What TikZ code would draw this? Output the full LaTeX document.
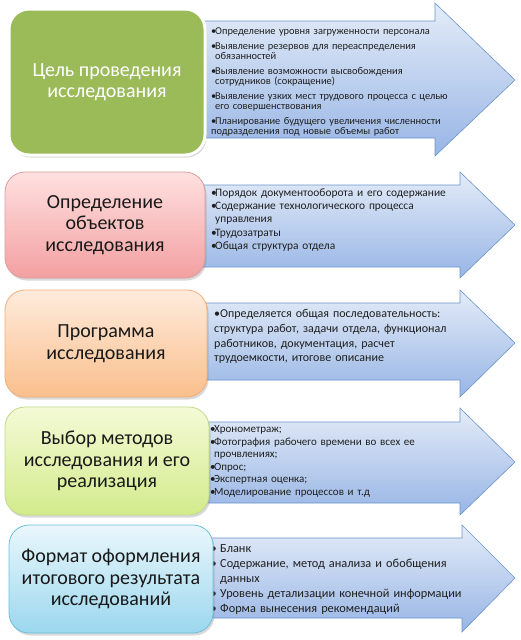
\documentclass[tikz,border=0pt]{standalone}
\usepackage{fontspec}
\setmainfont{Carlito}
\usetikzlibrary{shadows}
\definecolor{arrtop}{HTML}{E4ECF8}
\definecolor{arrbot}{HTML}{97B5E5}
\definecolor{arredge}{HTML}{6C94CC}
\definecolor{gfill}{HTML}{9BBB59}
\definecolor{ptop}{HTML}{FFE0E0}
\definecolor{pbot}{HTML}{F3A0A1}
\definecolor{pedge}{HTML}{DA9C9C}
\definecolor{otop}{HTML}{FEEBDC}
\definecolor{obot}{HTML}{FABF8D}
\definecolor{oedge}{HTML}{F3AE7A}
\definecolor{ltop}{HTML}{F4FAD6}
\definecolor{lbot}{HTML}{D3EB8C}
\definecolor{ledge}{HTML}{C2D98C}
\definecolor{btop}{HTML}{EAF7FC}
\definecolor{bbot}{HTML}{9BD7EE}
\definecolor{bedge}{HTML}{6CC0DD}
\newcommand\bitem[2][4pt]{\par\hangindent=#1\hangafter=1\noindent\makebox[#1][l]{•}#2}
\begin{document}
\begin{tikzpicture}[x=1pt,y=-1pt,
  arrowshape/.style={draw=arredge, line width=0.6pt, top color=arrtop, bottom color=arrbot},
  listtext/.style={anchor=base west, inner sep=0pt, text width=280pt, align=left, text=black!88},
  stagebox/.style={rounded corners=20pt, line width=0.8pt, align=center, inner sep=0pt,
    font=\fontsize{20}{21.5}\selectfont, text=black!90,
    drop shadow={opacity=0.3, shadow xshift=1.5pt, shadow yshift=-2.5pt}},
]
\useasboundingbox (0,0) rectangle (520,640);
% arrows
\path[arrowshape] (190,21) -- (435,21) -- (435,3) -- (515,80) -- (435,156) -- (435,138) -- (190,138) -- cycle;
\path[arrowshape] (190,185) -- (460,185) -- (460,172) -- (515,225) -- (460,278) -- (460,267) -- (190,267) -- cycle;
\path[arrowshape] (190,303) -- (460,303) -- (460,290) -- (515,343) -- (460,397) -- (460,380) -- (190,380) -- cycle;
\path[arrowshape] (190,422) -- (460,422) -- (460,408) -- (515,462) -- (460,515) -- (460,503) -- (190,503) -- cycle;
\path[arrowshape] (190,538) -- (462,538) -- (462,525) -- (515,578) -- (462,632) -- (462,618) -- (190,618) -- cycle;
% list texts
\node[listtext, font=\fontsize{10.4}{10}\selectfont] (t1) at (211,19) {\setlength\parskip{5pt}%
\bitem{Определение уровня загруженности персонала}
\bitem{Выявление резервов для переаспределения\newline обязанностей}
\bitem{Выявление возможности высвобождения\newline сотрудников (сокращение)}
\bitem{Выявление узких мест трудового процесса с целью\newline его совершенствования}
\bitem{Планирование будущего увеличения численности\newline подразделения под новые объемы работ}};
\node[listtext, font=\fontsize{11.4}{13.3}\selectfont] (t2) at (211,183) {\setlength\parskip{0pt}%
\bitem{Порядок документооборота и его содержание}
\bitem{Содержание технологического процесса\newline управления}
\bitem{Трудозатраты}
\bitem{Общая структура отдела}};
\node[listtext, font=\fontsize{12}{14.7}\selectfont] (t3) at (214,303) {\setlength\parskip{0pt}%
\bitem[6pt]{Определяется общая последовательность:\newline структура работ, задачи отдела, функционал\newline работников, документация, расчет\newline трудоемкости, итогове описание}};
\node[listtext, font=\fontsize{11}{12}\selectfont] (t4) at (210,420) {\setlength\parskip{0.7pt}%
\bitem{Хронометраж;}
\bitem{Фотография рабочего времени во всех ее\newline прочвлениях;}
\bitem{Опрос;}
\bitem{Экспертная оценка;}
\bitem{Моделирование процессов и т.д}};
\node[listtext, font=\fontsize{12.3}{14.8}\selectfont] (t5) at (210.5,538) {\setlength\parskip{0pt}%
\bitem[9.5pt]{Бланк}
\bitem[9.5pt]{Содержание, метод анализа и обобщения\newline данных}
\bitem[9.5pt]{Уровень детализации конечной информации}
\bitem[9.5pt]{Форма вынесения рекомендаций}};
% stage boxes
\node[stagebox, fill=gfill, draw=white, line width=3pt, text=white,
  minimum width=196pt, minimum height=146pt] (b1) at (107,82) {Цель проведения\\исследования};
\node[stagebox, top color=ptop, bottom color=pbot, draw=pedge,
  minimum width=200pt, minimum height=106pt] (b2) at (105,225) {Определение\\объектов\\исследования};
\node[stagebox, top color=otop, bottom color=obot, draw=oedge,
  minimum width=202pt, minimum height=107pt] (b3) at (106,343.5) {Программа\\исследования};
\node[stagebox, top color=ltop, bottom color=lbot, draw=ledge,
  minimum width=204pt, minimum height=108pt] (b4) at (107,461) {Выбор методов\\исследования и его\\реализация};
\node[stagebox, top color=btop, bottom color=bbot, draw=bedge,
  minimum width=204pt, minimum height=108pt] (b5) at (111,579) {Формат оформления\\итогового результата\\исследований};
\end{tikzpicture}
\end{document}
